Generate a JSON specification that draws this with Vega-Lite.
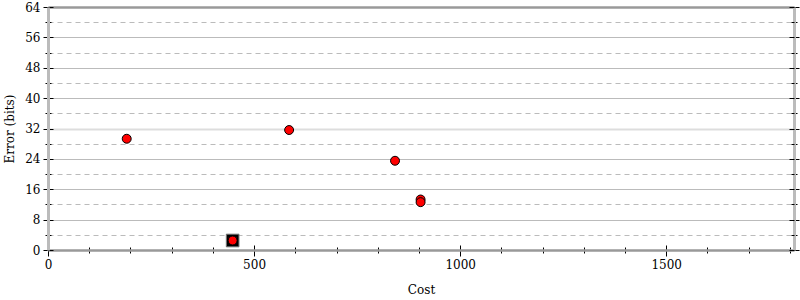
{
  "$schema": "https://vega.github.io/schema/vega-lite/v6.json",
  "width": 746,
  "height": 243,
  "autosize": "none",
  "padding": {"left": 48, "top": 7, "right": 6, "bottom": 50},
  "config": {
    "view": {"stroke": null},
    "font": "DejaVu Serif",
    "axis": {"labelFont": "DejaVu Serif", "titleFont": "DejaVu Serif", "labelFontSize": 12, "titleFontSize": 12, "titleFontWeight": "normal", "labelColor": "#000", "titleColor": "#000", "tickColor": "#000", "tickWidth": 1}
  },
  "data": {
    "values": [
      {"cost": 191, "error": 29.3, "best": false},
      {"cost": 585, "error": 31.6, "best": false},
      {"cost": 842, "error": 23.5, "best": false},
      {"cost": 904, "error": 13.3, "best": false},
      {"cost": 904, "error": 12.6, "best": false},
      {"cost": 448, "error": 2.5, "best": true}
    ]
  },
  "layer": [
    {
      "transform": [{"filter": "datum.best"}],
      "mark": {"type": "point", "shape": "square", "filled": true, "size": 160, "color": "#000", "stroke": "#777", "strokeWidth": 1, "opacity": 1},
      "encoding": {
        "x": {"field": "cost", "type": "quantitative", "scale": {"domain": [0, 1810], "nice": false},
          "axis": {"orient": "bottom", "values": [0,100,200,300,400,500,600,700,800,900,1000,1100,1200,1300,1400,1500,1600,1700,1800], "labels": false, "domain": false, "grid": false, "title": null,
            "tickSize": {"condition": {"test": "datum.value % 500 == 0", "value": -5}, "value": -3}}},
        "y": {"field": "error", "type": "quantitative", "scale": {"domain": [0, 64], "nice": false},
          "axis": {"orient": "left", "values": [0,4,8,12,16,20,24,28,32,36,40,44,48,52,56,60,64], "labels": false, "domain": false, "grid": false, "title": null,
            "tickSize": {"condition": {"test": "datum.value % 8 == 0", "value": -5}, "value": -3}}}
      }
    },
    {
      "mark": {"type": "point", "shape": "circle", "filled": true, "size": 80, "color": "#ff0000", "stroke": "#000", "strokeWidth": 1, "opacity": 1},
      "encoding": {
        "x": {"field": "cost", "type": "quantitative", "scale": {"domain": [0, 1810], "nice": false},
          "axis": {"orient": "bottom", "values": [0,100,200,300,400,500,600,700,800,900,1000,1100,1200,1300,1400,1500,1600,1700,1800],
            "format": "d",
            "labelExpr": "datum.value % 500 == 0 ? datum.label : ''", "labelPadding": 3, "labelFlush": false,
            "domain": true, "domainColor": "#999", "domainWidth": 2.5, "grid": false, "title": "Cost", "titlePadding": 14,
            "tickSize": {"condition": {"test": "datum.value % 500 == 0", "value": 6}, "value": 3}}},
        "y": {"field": "error", "type": "quantitative", "scale": {"domain": [0, 64], "nice": false},
          "axis": {"orient": "left", "values": [0,4,8,12,16,20,24,28,32,36,40,44,48,52,56,60,64],
            "labelExpr": "datum.value % 8 == 0 ? datum.label : ''", "labelPadding": 3, "labelFlush": false,
            "domain": true, "domainColor": "#bbb", "domainWidth": 3, "title": "Error (bits)", "titlePadding": 8,
            "grid": true,
            "gridColor": {"condition": [{"test": "datum.value == 64", "value": "#999"}, {"test": "datum.value == 32", "value": "#ddd"}], "value": "#bbb"},
            "gridWidth": {"condition": {"test": "datum.value == 64 || datum.value == 32", "value": 2}, "value": 1},
            "gridDash": {"condition": {"test": "datum.value % 8 != 0", "value": [5, 4]}, "value": []},
            "tickSize": {"condition": {"test": "datum.value % 8 == 0", "value": 5}, "value": 3}}}
      }
    },
    {
      "mark": {"type": "point", "opacity": 0},
      "encoding": {
        "x": {"field": "cost", "type": "quantitative", "scale": {"domain": [0, 1810], "nice": false},
          "axis": {"orient": "top", "ticks": false, "labels": false, "grid": false, "title": null, "domain": true, "domainColor": "#999", "domainWidth": 2}},
        "y": {"field": "error", "type": "quantitative", "scale": {"domain": [0, 64], "nice": false},
          "axis": {"orient": "right", "values": [0,4,8,12,16,20,24,28,32,36,40,44,48,52,56,60,64], "labels": false, "grid": false, "title": null,
            "domain": true, "domainColor": "#bbb", "domainWidth": 3,
            "tickSize": {"condition": {"test": "datum.value % 8 == 0", "value": 5}, "value": 3}}}
      }
    },
    {
      "mark": {"type": "point", "opacity": 0},
      "encoding": {
        "x": {"field": "cost", "type": "quantitative", "scale": {"domain": [0, 1810], "nice": false}, "axis": null},
        "y": {"field": "error", "type": "quantitative", "scale": {"domain": [0, 64], "nice": false},
          "axis": {"orient": "right", "values": [0,4,8,12,16,20,24,28,32,36,40,44,48,52,56,60,64], "labels": false, "grid": false, "title": null, "domain": false,
            "tickSize": {"condition": {"test": "datum.value % 8 == 0", "value": -5}, "value": -3}}}
      }
    }
  ],
  "resolve": {"axis": {"x": "independent", "y": "independent"}}
}
